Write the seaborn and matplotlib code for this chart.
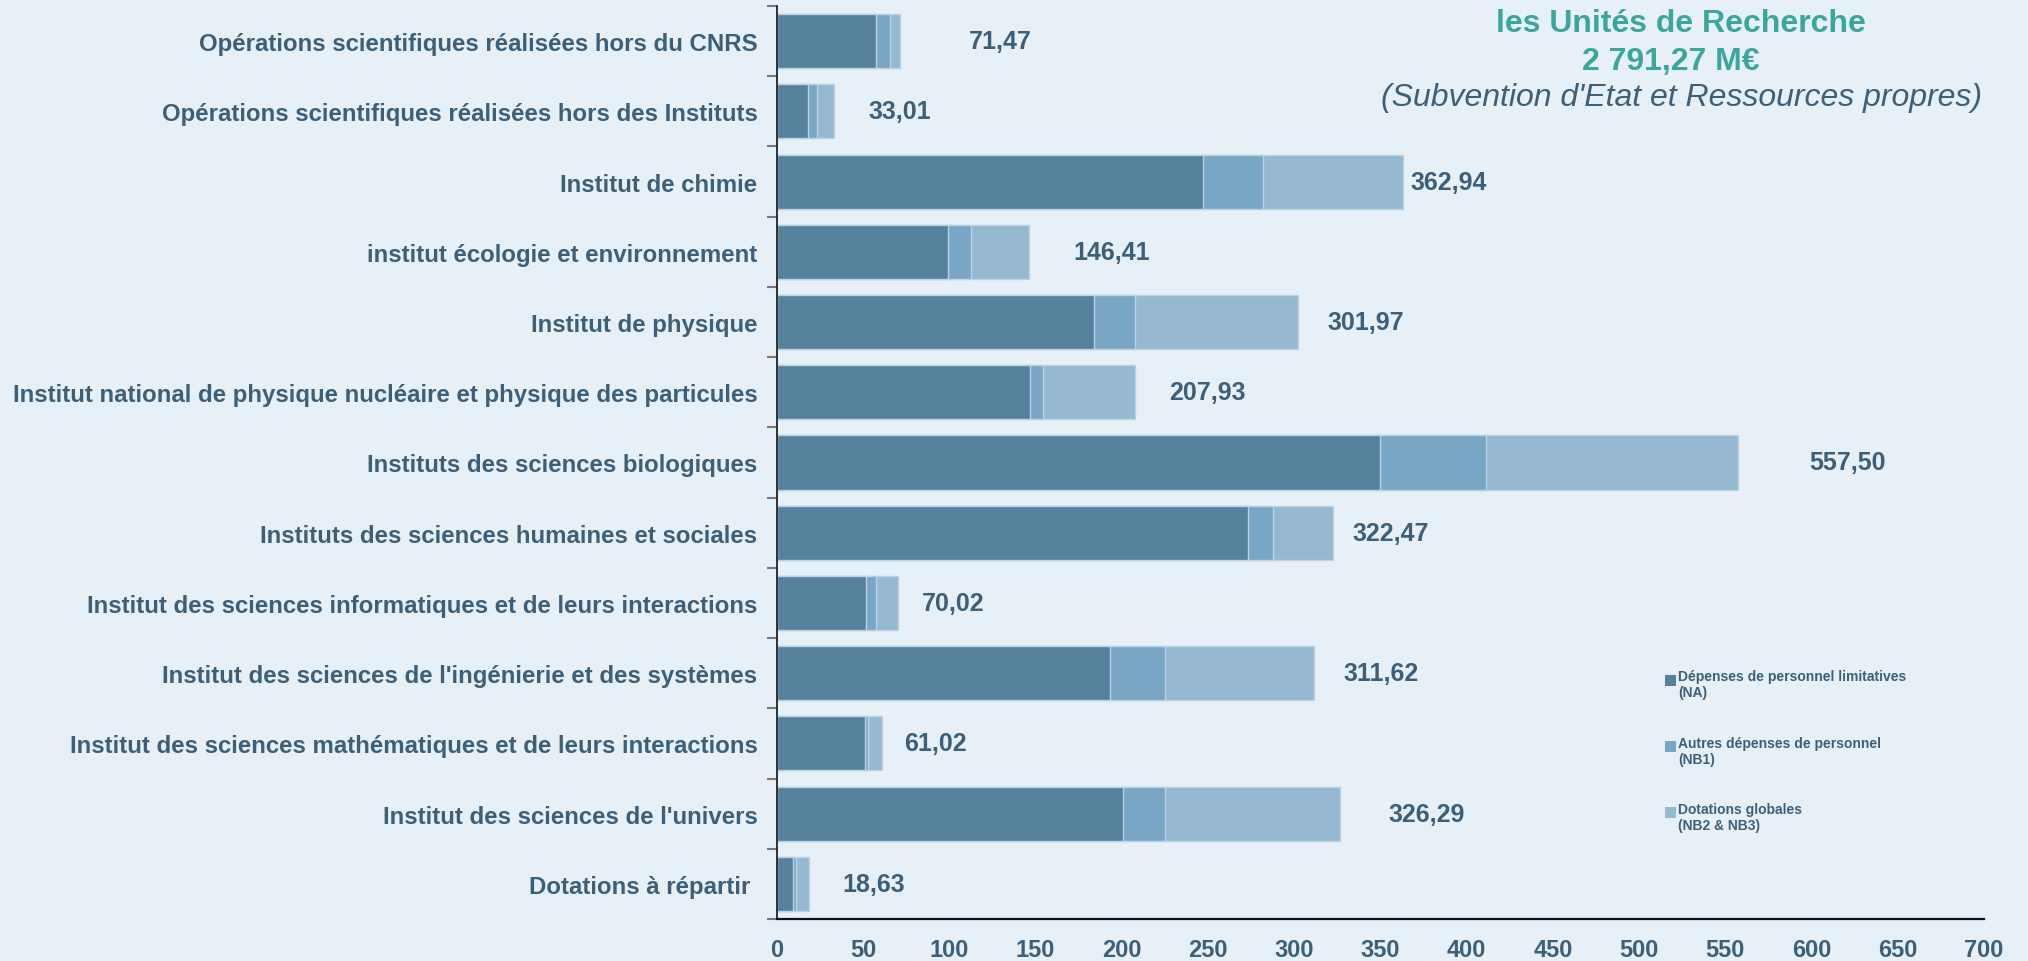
import numpy as np
import pandas as pd
import matplotlib
matplotlib.use("Agg")
import matplotlib.pyplot as plt
import seaborn as sns
from matplotlib.patches import Patch, Rectangle
from matplotlib.legend_handler import HandlerBase

categories = [
    "Opérations scientifiques réalisées hors du CNRS",
    "Opérations scientifiques réalisées hors des Instituts",
    "Institut de chimie",
    "institut écologie et environnement",
    "Institut de physique",
    "Institut national de physique nucléaire et physique des particules",
    "Instituts des sciences biologiques",
    "Instituts des sciences humaines et sociales",
    "Institut des sciences informatiques et de leurs interactions",
    "Institut des sciences de l'ingénierie et des systèmes",
    "Institut des sciences mathématiques et de leurs interactions",
    "Institut des sciences de l'univers",
    "Dotations à répartir ",
]
na_values = [57.7, 17.9, 247.3, 99.4, 183.6, 146.6, 349.8, 272.9, 51.5, 192.9, 51.3, 200.9, 9.6]
nb1_values = [7.6, 5.1, 34.4, 13.0, 23.8, 7.5, 61.2, 14.5, 5.7, 32.4, 1.8, 24.4, 1.5]
nb23_values = [6.17, 10.01, 81.24, 34.01, 94.57, 53.83, 146.5, 35.07, 12.82, 86.32, 7.92, 100.99, 7.53]
total_labels = ["71,47", "33,01", "362,94", "146,41", "301,97", "207,93", "557,50",
                "322,47", "70,02", "311,62", "61,02", "326,29", "18,63"]
series_names = ["Dépenses de personnel limitatives\n(NA)",
                "Autres dépenses de personnel\n(NB1)",
                "Dotations globales\n(NB2 & NB3)"]

# layout: gap between bar end and its value label (data units)
label_pad = [40.1, 19.8, 4.3, 25.5, 17.3, 19.7, 41.3, 11.3, 13.9, 17.2, 12.5, 28.6, 19.5]

BG = "#e8f0f7"
TXT = "#3d5f79"
TEAL = "#3aa79b"
COLORS = ["#56819c", "#7aa6c5", "#96b8d0"]
EDGE = "#bcd2e2"


class TopSquare(HandlerBase):
    # small square next to the first line of a two-line label
    def create_artists(self, legend, orig_handle, xdescent, ydescent, width, height, fontsize, trans):
        s = 0.8 * fontsize
        r = Rectangle((-xdescent, -ydescent + height - s), s, s,
                      facecolor=orig_handle.get_facecolor(), edgecolor="none", transform=trans)
        return [r]


df = pd.DataFrame({"cat": categories, "na": na_values, "nb1": nb1_values, "nb23": nb23_values})
df["c1"] = df["na"]
df["c2"] = df["na"] + df["nb1"]
df["c3"] = df["na"] + df["nb1"] + df["nb23"]

sns.set_style("white")
plt.rcParams["font.family"] = ["Liberation Sans", "DejaVu Sans"]

fig = plt.figure(figsize=(20.28, 9.62), dpi=100, facecolor=BG)
ax = fig.add_axes([0.3831, 0.0437, 0.5952, 0.9490])
ax.set_facecolor(BG)

for col, color in zip(["c3", "c2", "c1"], COLORS[::-1]):
    sns.barplot(data=df, x=col, y="cat", orient="h", color=color, width=0.77,
                edgecolor=EDGE, linewidth=1.0, saturation=1, ax=ax)

for i, (tot, lab, pad) in enumerate(zip(df["c3"], total_labels, label_pad)):
    ax.text(tot + pad, i, lab, va="center", ha="left", fontsize=18,
            fontweight="bold", color=TXT)

ax.set_xlim(0, 700)
ax.set_ylim(12.5, -0.5)
ax.set_xticks(np.arange(0, 701, 50))
ax.set_xlabel("")
ax.set_ylabel("")
ax.tick_params(axis="x", length=6, width=1, color="#444444", pad=8,
               labelsize=17, labelcolor=TXT)
ax.tick_params(axis="y", which="major", length=0, pad=14, labelsize=17.3, labelcolor=TXT)
for lbl in ax.get_xticklabels() + ax.get_yticklabels():
    lbl.set_fontweight("bold")
ax.set_yticks(np.arange(-0.5, 13, 1), minor=True)
ax.tick_params(axis="y", which="minor", length=7, width=1.5, color="#777777", left=True)

for s in ["top", "right"]:
    ax.spines[s].set_visible(False)
ax.spines["left"].set_color("#111111")
ax.spines["bottom"].set_color("#111111")
ax.spines["left"].set_linewidth(1.2)
ax.spines["bottom"].set_linewidth(1.6)

handles = [Patch(facecolor=c, edgecolor="none") for c in COLORS]
leg = fig.legend(handles, series_names, loc="upper left", bbox_to_anchor=(0.8175, 0.3105),
                 frameon=False, fontsize=10, handlelength=0.8, handleheight=2.0,
                 handletextpad=0.15, labelspacing=2.6, borderpad=0,
                 handler_map={Patch: TopSquare()})
for t in leg.get_texts():
    t.set_color(TXT)
    t.set_fontweight("bold")

fig.text(0.829, 0.975, "les Unités de Recherche", ha="center", va="center",
         fontsize=23, fontweight="bold", color=TEAL)
fig.text(0.824, 0.936, "2 791,27 M€", ha="center", va="center",
         fontsize=23, fontweight="bold", color=TEAL)
fig.text(0.829, 0.898, "(Subvention d'Etat et Ressources propres)", ha="center", va="center",
         fontsize=23, fontstyle="italic", color=TXT)

fig.savefig("out.png", dpi=100, facecolor=BG)
